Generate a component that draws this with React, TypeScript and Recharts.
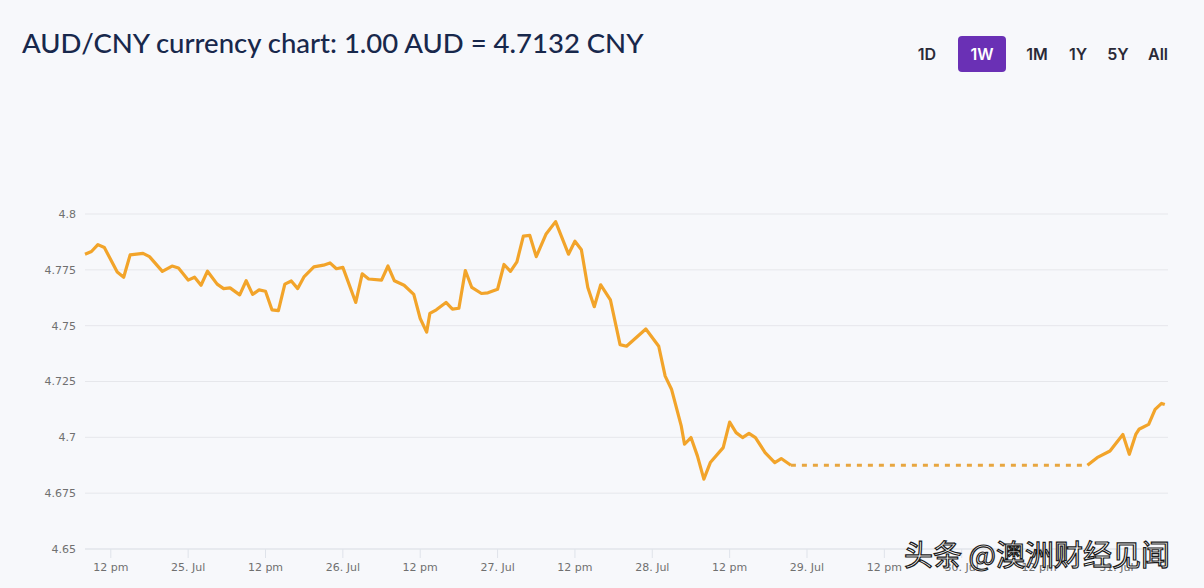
import React from "react"
import { CartesianGrid, Line, LineChart, XAxis, YAxis } from "recharts"

// hours since 24 Jul 00:00, rate in CNY per AUD
const weekHours = [
  8, 9, 10, 11, 13, 14, 15, 17, 18, 20, 21.5, 22.5, 24, 25, 26, 27, 28.5, 29.5, 30.5, 32,
  33, 34, 35, 36, 37, 38, 39, 40, 41, 42, 43.5, 45, 46, 47, 48, 50, 51, 52, 54, 55,
  56, 57.5, 59, 60, 61, 61.5, 62.5, 64, 65, 66, 67, 68, 69.5, 70.5, 72, 73, 74, 75, 76, 77,
  78, 79.5, 81, 83, 84, 85, 86, 87, 88, 89.5, 91, 92, 95, 97, 98, 99, 100.5, 101, 102, 103,
  104, 105, 107, 108, 109, 110, 111, 112, 113.5, 115, 116, 117.5,
]
const weekRates = [
  4.782, 4.7832, 4.7863, 4.785, 4.774, 4.7717, 4.7817, 4.7824, 4.7809, 4.7743, 4.7767, 4.7758, 4.7704, 4.7717, 4.7681, 4.7744, 4.7686, 4.7666, 4.7669, 4.7638,
  4.7701, 4.764, 4.766, 4.7654, 4.7571, 4.7567, 4.7686, 4.77, 4.7666, 4.772, 4.7763, 4.7771, 4.7781, 4.7755, 4.7761, 4.7604, 4.7732, 4.7709, 4.7704, 4.7767,
  4.7701, 4.7681, 4.764, 4.7532, 4.7471, 4.7555, 4.7571, 4.7604, 4.7574, 4.7578, 4.7747, 4.7671, 4.7644, 4.7647, 4.7663, 4.7774, 4.7743, 4.7786, 4.7901, 4.7904,
  4.7809, 4.7909, 4.7966, 4.782, 4.7878, 4.784, 4.7671, 4.7585, 4.7683, 4.7616, 4.7415, 4.7408, 4.7485, 4.7408, 4.7274, 4.7214, 4.705, 4.6969, 4.6999, 4.6917,
  4.6813, 4.6887, 4.6954, 4.7068, 4.7021, 4.6999, 4.7018, 4.6999, 4.6932, 4.6887, 4.6905, 4.6875,
]

// weekend: market closed, last rate carried
const weekendHours = [117.5, 163.5]
const weekendRates = [4.6875, 4.6875]

const mondayHours = [163.5, 165, 167, 169, 170, 171, 171.5, 173, 174, 175, 175.5]
const mondayRates = [4.6875, 4.6909, 4.6939, 4.7013, 4.6924, 4.7013, 4.7036, 4.7058, 4.7125, 4.7152, 4.7147]

const xTicks = [12, 24, 36, 48, 60, 72, 84, 96, 108, 120, 132, 144, 156, 168]
const yTicks = [4.65, 4.675, 4.7, 4.725, 4.75, 4.775, 4.8]
const ranges = ["1D", "1W", "1M", "1Y", "5Y", "All"]
const rangeCenters = [927, 982, 1037, 1078, 1118, 1158]

const toRows = (hours: number[], rates: number[]) => hours.map((h, i) => ({ h, rate: rates[i] }))

const weekData = toRows(weekHours, weekRates)
const weekendData = toRows(weekendHours, weekendRates)
const mondayData = toRows(mondayHours, mondayRates)

const formatHour = (h: number) => (h % 24 === 12 ? "12 pm" : `${24 + h / 24}. Jul`)
const formatRate = (v: number) => String(Number(v.toFixed(3)))

const LINE = "#f2a42a"
const axisTick = { fill: "#707070", fontSize: 11, fontFamily: "DejaVu Sans" }

export default function App() {
  return (
    <div style={{ position: "absolute", left: 0, top: 0, width: 1204, height: 588, background: "#f7f8fb", overflow: "hidden" }}>
      <div
        style={{
          position: "absolute",
          left: 22,
          top: 26,
          fontFamily: "Lato",
          fontSize: 27.5,
          fontWeight: 500,
          color: "#18284c",
          whiteSpace: "nowrap",
        }}
      >
        AUD/CNY currency chart: 1.00 AUD = 4.7132 CNY
      </div>

      {ranges.map((r, i) => {
        const active = r === "1W"
        return (
          <div
            key={r}
            style={{
              position: "absolute",
              left: rangeCenters[i] - 24,
              top: 36,
              width: 48,
              height: 36,
              lineHeight: "36px",
              textAlign: "center",
              borderRadius: 4,
              fontFamily: "Inter",
              fontSize: 16,
              fontWeight: 600,
              background: active ? "#6a30b5" : "transparent",
              color: active ? "#fff" : "#2a2a38",
            }}
          >
            {r}
          </div>
        )
      })}

      <LineChart width={1204} height={588} margin={{ top: 214, right: 36, left: 0, bottom: 0 }} style={{ position: "absolute", left: 0, top: 0 }}>
        <CartesianGrid vertical={false} stroke="#e6e7eb" />
        <XAxis
          dataKey="h"
          type="number"
          domain={[8, 176]}
          ticks={xTicks}
          tickFormatter={formatHour}
          height={39}
          stroke="#dfe3ea"
          tickSize={9}
          tickMargin={5}
          tick={axisTick}
          allowDuplicatedCategory={false}
        />
        <YAxis
          dataKey="rate"
          type="number"
          domain={[4.65, 4.8]}
          ticks={yTicks}
          tickFormatter={formatRate}
          width={85}
          axisLine={false}
          tickLine={false}
          tickMargin={3}
          tick={axisTick}
          allowDataOverflow
        />
        <Line data={weekData} dataKey="rate" type="linear" stroke={LINE} strokeWidth={3.2} dot={false} isAnimationActive={false} strokeLinejoin="round" />
        <Line data={weekendData} dataKey="rate" type="linear" stroke="#e8a640" strokeWidth={3} strokeDasharray="5 6" dot={false} isAnimationActive={false} />
        <Line data={mondayData} dataKey="rate" type="linear" stroke={LINE} strokeWidth={3.2} dot={false} isAnimationActive={false} strokeLinejoin="round" />
      </LineChart>

      <div
        style={{
          position: "absolute",
          left: 904,
          top: 532,
          fontFamily: "Noto Sans CJK SC",
          fontSize: 29,
          color: "#fff",
          WebkitTextStroke: "1.2px #1a1a1a",
          whiteSpace: "nowrap",
        }}
      >
        头条 @澳洲财经见闻
      </div>
    </div>
  )
}
